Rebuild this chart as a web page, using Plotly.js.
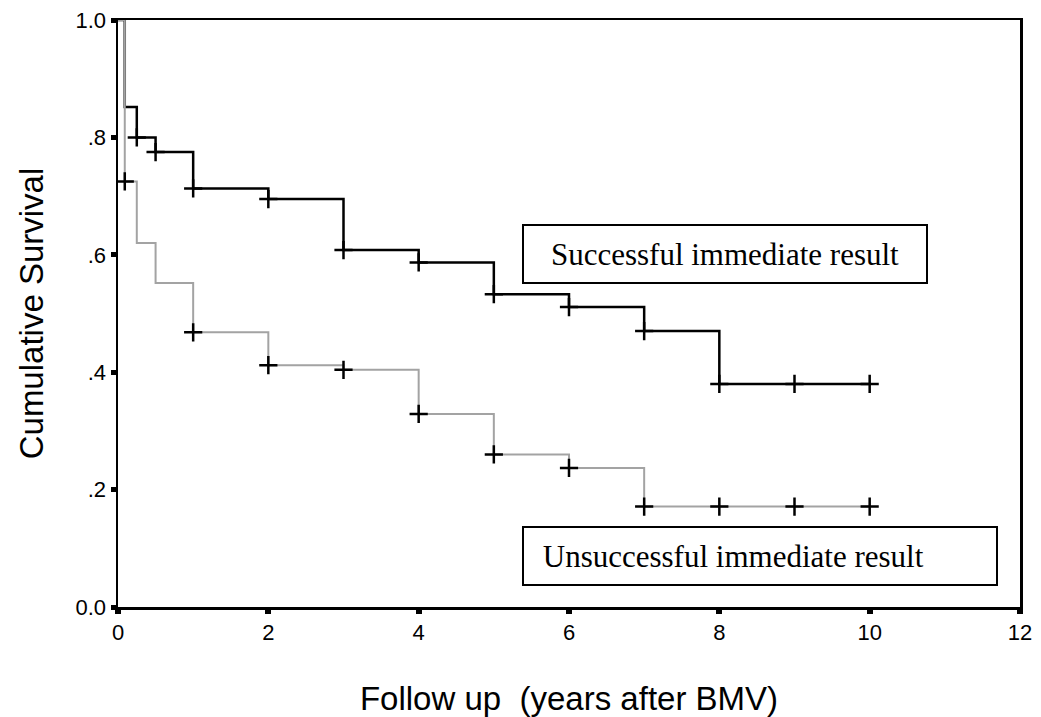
<!DOCTYPE html>
<html>
<head>
<meta charset="utf-8">
<script src="https://cdn.plot.ly/plotly-3.0.1.min.js"></script>
<style>
html,body{margin:0;padding:0;background:#fff;}
#chart{width:1041px;height:717px;}
</style>
</head>
<body>
<div id="chart"></div>
<script>
// Successful immediate result (Kaplan-Meier step curve)
var succTime = [0, 0.09, 0.25, 0.5, 1, 2, 3, 4, 5, 6, 7, 8, 10];
var succSurv = [1.0, 0.852, 0.80, 0.775, 0.713, 0.695, 0.608, 0.587, 0.533, 0.511, 0.47, 0.38, 0.38];
var succCensTime = [0.25, 0.5, 1, 2, 3, 4, 5, 6, 7, 8, 9, 10];
var succCensSurv = [0.80, 0.775, 0.713, 0.695, 0.608, 0.587, 0.533, 0.511, 0.47, 0.38, 0.38, 0.38];

// Unsuccessful immediate result
var unsTime = [0, 0.09, 0.25, 0.5, 1, 2, 3, 4, 5, 6, 7, 10];
var unsSurv = [1.0, 0.725, 0.62, 0.552, 0.468, 0.412, 0.404, 0.329, 0.26, 0.237, 0.171, 0.171];
var unsCensTime = [0.09, 1, 2, 3, 4, 5, 6, 7, 8, 9, 10];
var unsCensSurv = [0.725, 0.468, 0.412, 0.404, 0.329, 0.26, 0.237, 0.171, 0.171, 0.171, 0.171];

var xTickVals = [0, 2, 4, 6, 8, 10, 12];
var xTickText = ["0", "2", "4", "6", "8", "10", "12"];
var yTickVals = [0, 0.2, 0.4, 0.6, 0.8, 1.0];
var yTickText = ["0.0", ".2", ".4", ".6", ".8", "1.0"];

var labelSucc = "Successful immediate result";
var labelUns = "Unsuccessful immediate result";

var traces = [
  {x: succTime, y: succSurv, type: 'scatter', mode: 'lines', line: {shape: 'hv', color: '#000000', width: 2.5}, hoverinfo: 'skip'},
  {x: unsTime, y: unsSurv, type: 'scatter', mode: 'lines', line: {shape: 'hv', color: '#a3a3a3', width: 2}, hoverinfo: 'skip'},
  {x: unsCensTime, y: unsCensSurv, type: 'scatter', mode: 'markers', marker: {symbol: 'cross-thin', size: 13, line: {color: '#000', width: 2.5}}},
  {x: succCensTime, y: succCensSurv, type: 'scatter', mode: 'markers', marker: {symbol: 'cross-thin', size: 13, line: {color: '#000', width: 2.5}}}
];

var layout = {
  width: 1041, height: 717,
  margin: {l: 118, r: 21, t: 20, b: 110},
  paper_bgcolor: '#fff', plot_bgcolor: '#fff',
  showlegend: false,
  font: {family: 'Liberation Sans, Arial, sans-serif', color: '#000'},
  xaxis: {
    range: [0, 12], tickvals: xTickVals, ticktext: xTickText,
    showgrid: false, zeroline: false,
    showline: true, linecolor: '#000', linewidth: 2.5, mirror: true,
    ticks: 'outside', ticklen: 4, tickwidth: 6, tickcolor: '#000',
    tickfont: {size: 22, family: 'Liberation Sans, Arial, sans-serif'},
    title: {text: 'Follow up  (years after BMV)', font: {size: 33, family: 'Liberation Sans, Arial, sans-serif'}, standoff: 46},
    automargin: false
  },
  yaxis: {
    range: [0, 1], tickvals: yTickVals, ticktext: yTickText,
    showgrid: false, zeroline: false,
    showline: true, linecolor: '#000', linewidth: 2.5, mirror: true,
    ticks: 'outside', ticklen: 5, tickwidth: 5, tickcolor: '#000',
    tickfont: {size: 22, family: 'Liberation Sans, Arial, sans-serif'},
    title: {text: 'Cumulative Survival', font: {size: 33, family: 'Liberation Sans, Arial, sans-serif'}, standoff: 22},
    automargin: false
  },
  annotations: [
    {x: 8.07, y: 0.601, xref: 'x', yref: 'y', text: labelSucc, showarrow: false,
     font: {family: 'Liberation Serif, Times New Roman, serif', size: 31, color: '#000'},
     bordercolor: '#000', borderwidth: 2, borderpad: 11, bgcolor: '#fff',
     width: 380, height: 34, align: 'center'},
    {x: 8.54, y: 0.087, xref: 'x', yref: 'y', text: '&nbsp;' + labelUns, showarrow: false,
     font: {family: 'Liberation Serif, Times New Roman, serif', size: 31, color: '#000'},
     bordercolor: '#000', borderwidth: 2, borderpad: 11, bgcolor: '#fff',
     width: 450, height: 34, align: 'left'}
  ]
};

Plotly.newPlot('chart', traces, layout, {displayModeBar: false, staticPlot: true});
</script>
</body>
</html>
